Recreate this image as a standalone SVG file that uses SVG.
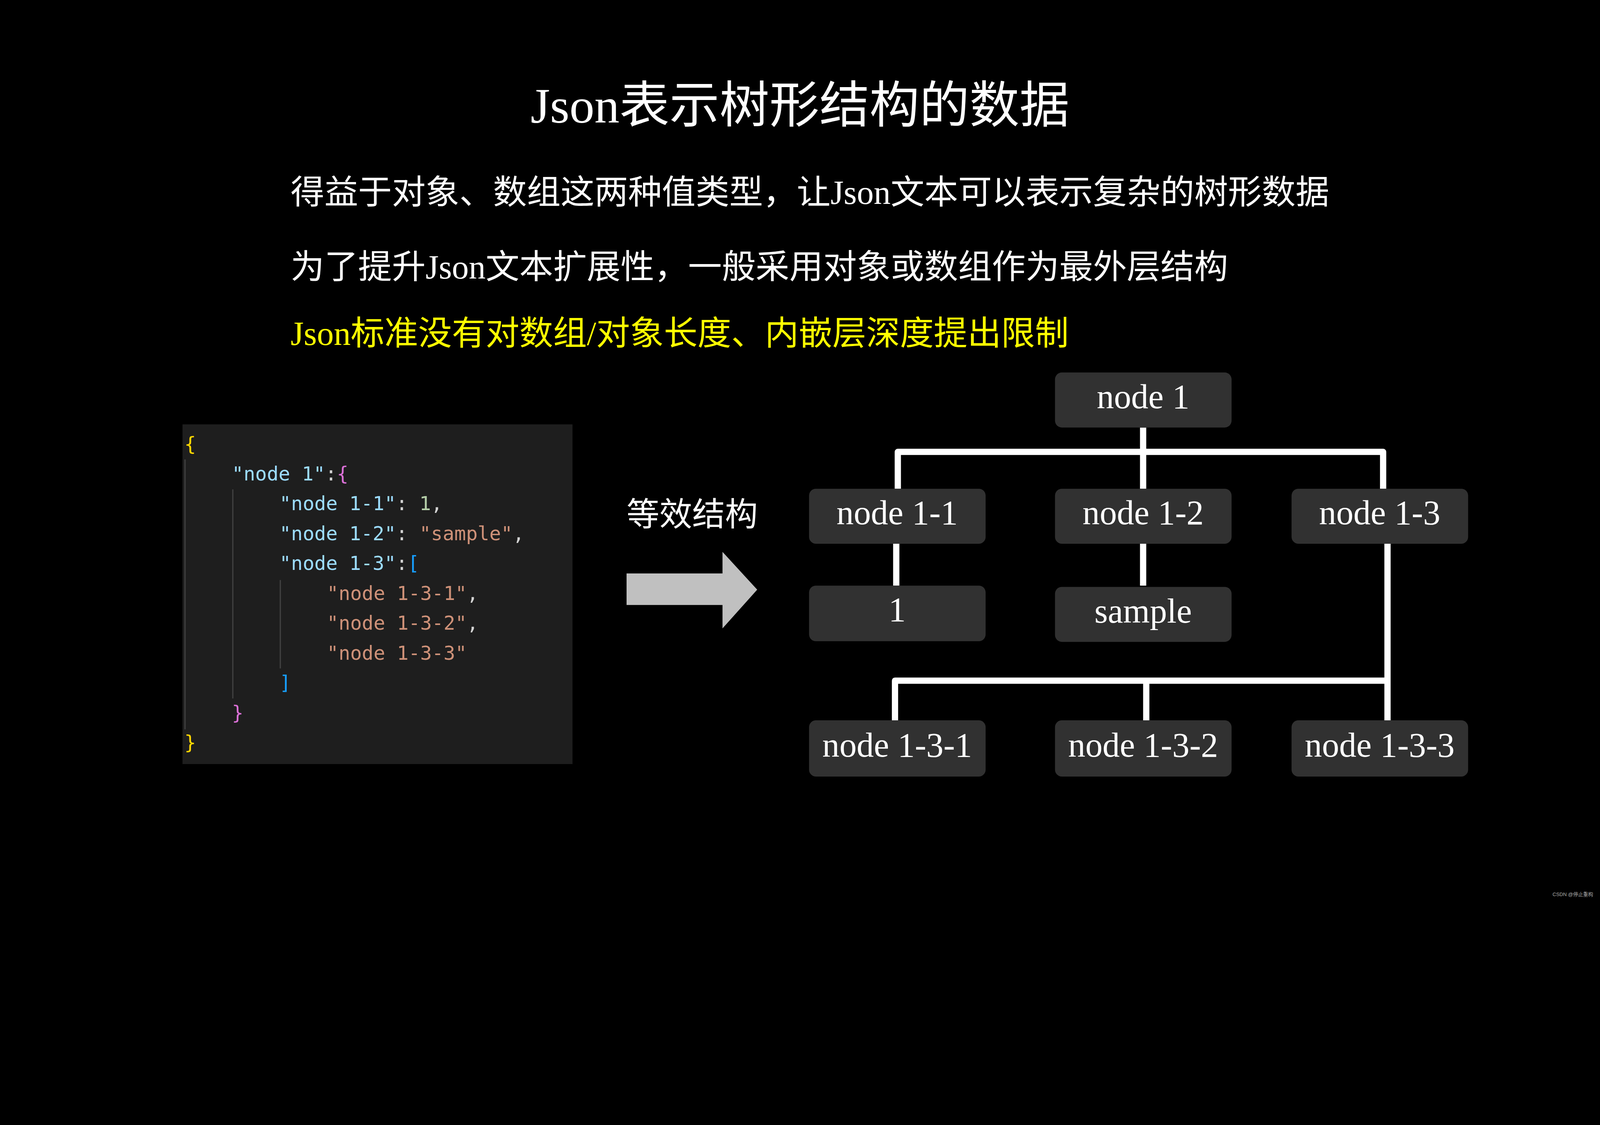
<svg xmlns="http://www.w3.org/2000/svg" width="5120" height="2880" viewBox="0 0 5120 2880" preserveAspectRatio="xMidYMin meet" style="width:100vw;height:100vh;display:block;background:#000">
<style>
.t{font-family:"Liberation Serif","Noto Sans CJK SC",serif;fill:#fff}
.n rect{fill:#313131}
.n text{font-family:"Liberation Serif","Noto Sans CJK SC",serif;font-size:110px;fill:#fff;text-anchor:middle}
.c{font-family:"DejaVu Sans Mono","Liberation Mono",monospace;font-size:62px}
.k{fill:#9cdcfe}.s{fill:#ce9178}.num{fill:#b5cea8}.p{fill:#d4d4d4}.y{fill:#ffd700}.m{fill:#da70d6}.b{fill:#179fff}
.g{stroke:#404040;stroke-width:4}
.e{stroke:#fff;stroke-width:20;fill:none;stroke-linejoin:round}
</style>
<rect width="5120" height="2880" fill="#000"/>
<text class="t" x="2560" y="392" font-size="160" text-anchor="middle">Json表示树形结构的数据</text>
<text class="t" x="930" y="653" font-size="108">得益于对象、数组这两种值类型，让Json文本可以表示复杂的树形数据</text>
<text class="t" x="930" y="891" font-size="108">为了提升Json文本扩展性，一般采用对象或数组作为最外层结构</text>
<text class="t" x="930" y="1104" font-size="108" style="fill:#ffff00">Json标准没有对数组/对象长度、内嵌层深度提出限制</text>

<g id="code">
<rect x="584" y="1358" width="1248" height="1087" fill="#1e1e1e"/>
<line class="g" x1="592" y1="1470" x2="592" y2="2334"/>
<line class="g" x1="745" y1="1566" x2="745" y2="2235"/>
<line class="g" x1="897" y1="1856" x2="897" y2="2139"/>
<text class="c" x="590" y="1442"><tspan class="y">{</tspan></text>
<text class="c" x="742" y="1538"><tspan class="k">"node 1"</tspan><tspan class="p">:</tspan><tspan class="m">{</tspan></text>
<text class="c" x="894" y="1633"><tspan class="k">"node 1-1"</tspan><tspan class="p">: </tspan><tspan class="num">1</tspan><tspan class="p">,</tspan></text>
<text class="c" x="894" y="1729"><tspan class="k">"node 1-2"</tspan><tspan class="p">: </tspan><tspan class="s">"sample"</tspan><tspan class="p">,</tspan></text>
<text class="c" x="894" y="1824"><tspan class="k">"node 1-3"</tspan><tspan class="p">:</tspan><tspan class="b">[</tspan></text>
<text class="c" x="1046" y="1920"><tspan class="s">"node 1-3-1"</tspan><tspan class="p">,</tspan></text>
<text class="c" x="1046" y="2015"><tspan class="s">"node 1-3-2"</tspan><tspan class="p">,</tspan></text>
<text class="c" x="1046" y="2111"><tspan class="s">"node 1-3-3"</tspan></text>
<text class="c" x="894" y="2206"><tspan class="b">]</tspan></text>
<text class="c" x="742" y="2302"><tspan class="m">}</tspan></text>
<text class="c" x="590" y="2397"><tspan class="y">}</tspan></text>
</g>

<g id="equiv">
<text class="t" x="2005" y="1682" font-size="105">等效结构</text>
<polygon points="2005,1835 2312,1835 2312,1766 2423,1887 2312,2011 2312,1936 2005,1936" fill="#c0c0c0"/>
</g>

<g id="connectors">
<line class="e" x1="3658" y1="1368" x2="3658" y2="1564"/>
<polyline class="e" points="2873,1564 2873,1446 4426,1446 4426,1564"/>
<line class="e" x1="2868" y1="1740" x2="2868" y2="1874"/>
<line class="e" x1="3658" y1="1740" x2="3658" y2="1874"/>
<line class="e" x1="4440" y1="1740" x2="4440" y2="2305"/>
<polyline class="e" points="2864,2305 2864,2178 4440,2178"/>
<line class="e" x1="3668" y1="2178" x2="3668" y2="2305"/>
</g>

<g id="n1" class="n"><rect x="3376" y="1192" width="565" height="176" rx="22"/><text x="3658" y="1306">node  1</text></g>
<g id="n11" class="n"><rect x="2589" y="1564" width="565" height="176" rx="22"/><text x="2871" y="1678">node  1-1</text></g>
<g id="n12" class="n"><rect x="3376" y="1564" width="565" height="176" rx="22"/><text x="3658" y="1678">node  1-2</text></g>
<g id="n13" class="n"><rect x="4133" y="1564" width="565" height="176" rx="22"/><text x="4415" y="1678">node  1-3</text></g>
<g id="v1" class="n"><rect x="2589" y="1874" width="565" height="178" rx="22"/><text x="2871" y="1988">1</text></g>
<g id="vs" class="n"><rect x="3376" y="1878" width="565" height="176" rx="22"/><text x="3658" y="1992">sample</text></g>
<g id="n131" class="n"><rect x="2589" y="2305" width="565" height="180" rx="22"/><text x="2871" y="2421">node  1-3-1</text></g>
<g id="n132" class="n"><rect x="3376" y="2305" width="565" height="180" rx="22"/><text x="3658" y="2421">node  1-3-2</text></g>
<g id="n133" class="n"><rect x="4133" y="2305" width="565" height="180" rx="22"/><text x="4415" y="2421">node  1-3-3</text></g>

<text x="4968" y="2868" font-size="16" fill="#aaa" font-family="Liberation Sans,'Noto Sans CJK SC',sans-serif">CSDN @停止重构</text>
</svg>
